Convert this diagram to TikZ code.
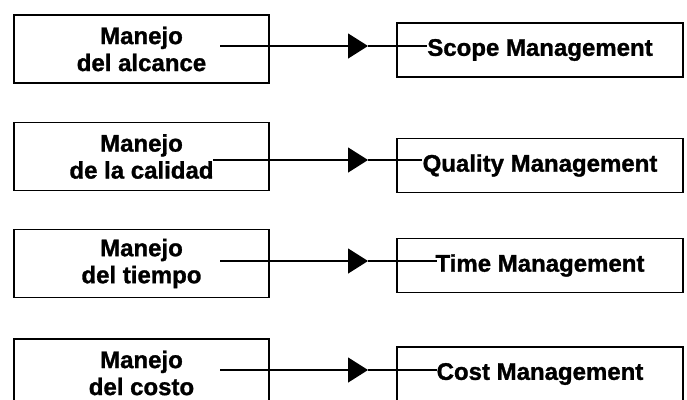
\documentclass[tikz,border=0pt]{standalone}
\usepackage{fontspec}
\setmainfont{Liberation Sans}[BoldFeatures={FakeBold=1.2}]
\usetikzlibrary{arrows.meta}
\tikzset{
	izq/.style={draw, line width=1.3pt, minimum width=255pt, minimum height=68pt, inner sep=0pt, align=center, font=\fontsize{24}{27}\selectfont\bfseries},
	der/.style={draw, line width=1.3pt, minimum width=286pt, minimum height=54pt, inner sep=0pt, font=\fontsize{24}{27}\selectfont\bfseries},
	flecha/.style={line width=1.3pt, -{Triangle[length=20pt,width=25pt]}},
	linea/.style={line width=1.3pt}
}
\begin{document}
\begin{tikzpicture}[x=1pt,y=-1pt]
	\useasboundingbox (0,0) rectangle (687,399);
	% cajas de la izquierda
	\node[izq] (alcance) at (141.5,49) {Manejo\\del alcance};
	\node[izq] (calidad) at (141.5,156.5) {Manejo\\de la calidad};
	\node[izq] (tiempo) at (141.5,263.5) {Manejo\\del tiempo};
	\node[izq] (costo) at (141.5,373) {Manejo\\del costo};
	% cajas de la derecha
	\node[der] (scope) at (540,50) {Scope Management};
	\node[der] (quality) at (540,165.5) {Quality Management};
	\node[der] (time) at (540,265.5) {Time Management};
	\node[der] (cost) at (540,374) {Cost Management};
	% puntos de las flechas
	\coordinate (s1) at (220,46);
	\coordinate (p1) at (368,46);
	\coordinate (e1) at (427,46);
	\coordinate (s2) at (213,160);
	\coordinate (p2) at (368,160);
	\coordinate (e2) at (422,160);
	\coordinate (s3) at (220,261);
	\coordinate (p3) at (368,261);
	\coordinate (e3) at (437,261);
	\coordinate (s4) at (220,370);
	\coordinate (p4) at (368,370);
	\coordinate (e4) at (437,370);
	\draw[flecha] (s1) -- (p1);
	\draw[linea] (p1) -- (e1);
	\draw[flecha] (s2) -- (p2);
	\draw[linea] (p2) -- (e2);
	\draw[flecha] (s3) -- (p3);
	\draw[linea] (p3) -- (e3);
	\draw[flecha] (s4) -- (p4);
	\draw[linea] (p4) -- (e4);
\end{tikzpicture}
\end{document}
